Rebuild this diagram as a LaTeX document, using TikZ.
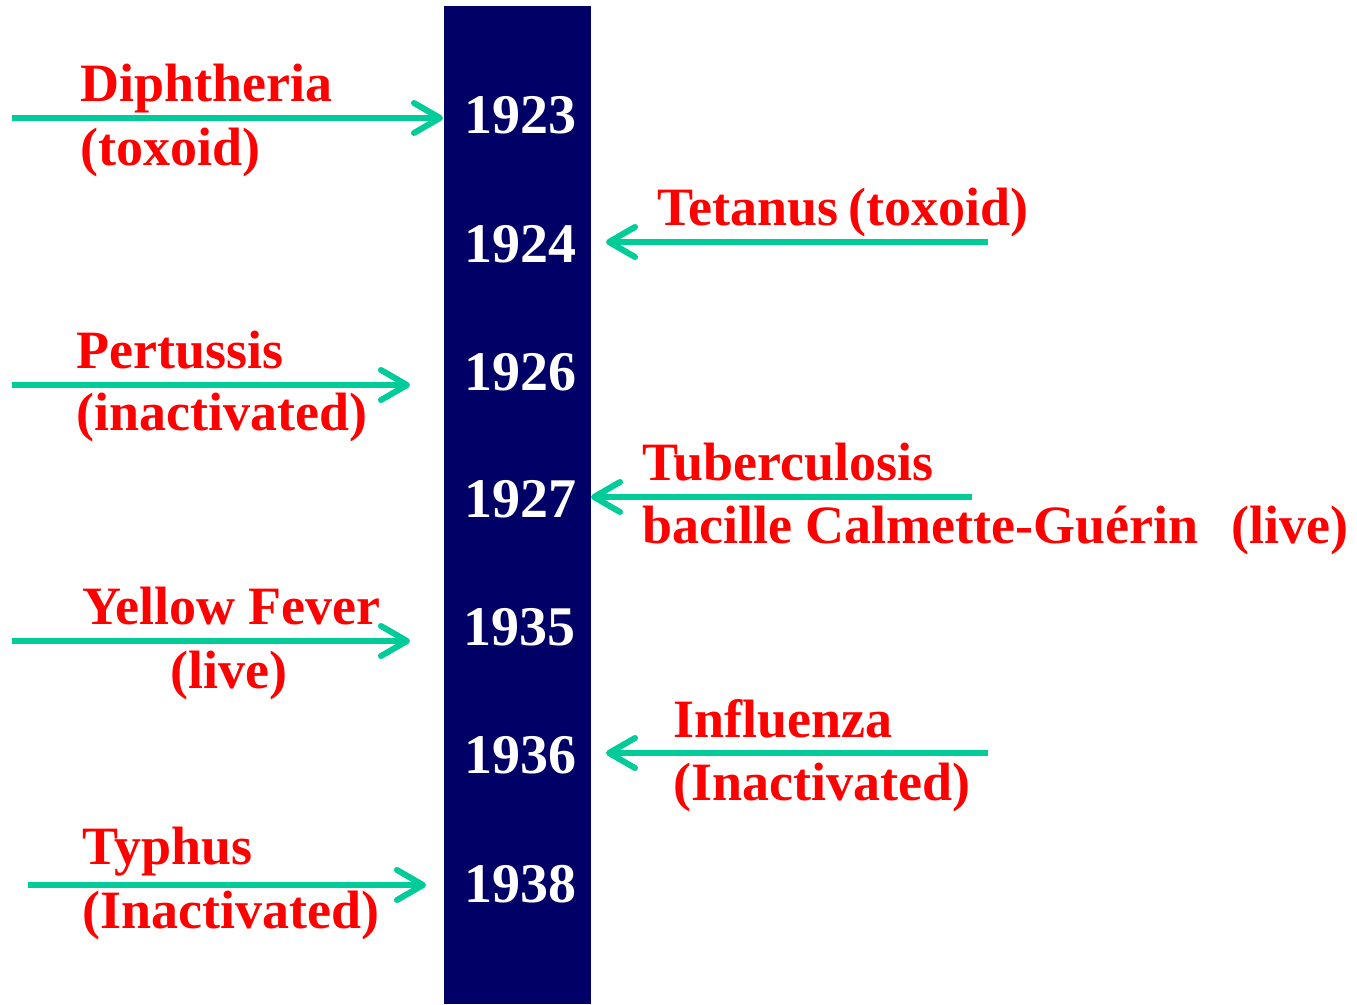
\documentclass[tikz,border=0pt]{standalone}
\usepackage{fontspec}
\setmainfont{Liberation Serif}
\usetikzlibrary{arrows.meta}
\definecolor{navybar}{HTML}{000066}
\definecolor{arrgreen}{HTML}{00CC99}
\definecolor{labred}{HTML}{FF0000}
\begin{document}
\begin{tikzpicture}[x=1pt,y=-1pt,
  lab/.style={anchor=base west,inner sep=0pt,text=labred,font=\bfseries\fontsize{54}{64}\selectfont},
  yr/.style={anchor=base,inner sep=0pt,text=white,font=\bfseries\fontsize{56}{64}\selectfont},
  arr/.style={draw=arrgreen,line width=6pt,-{Straight Barb[length=26pt,width=30pt,round,line width=6pt]}}]
\useasboundingbox (0,0) rectangle (1357,1004);
\fill[navybar] (444,6) rectangle (591,1004);
% years
\node[yr] (y1923) at (520,133) {1923};
\node[yr] (y1924) at (520,262) {1924};
\node[yr] (y1926) at (520,390) {1926};
\node[yr] (y1927) at (520,517) {1927};
\node[yr] (y1935) at (519,645) {1935};
\node[yr] (y1936) at (520,773) {1936};
\node[yr] (y1938) at (520,902) {1938};
% labels
\node[lab] (dip1) at (80,101) {Diphtheria};
\node[lab] (dip2) at (80,165) {(toxoid)};
\node[lab] (tet) at (657,225) {Tetanus\hspace{-3pt} (toxoid)};
\node[lab] (per1) at (76,368) {Pertussis};
\node[lab] (per2) at (76,430) {(inactivated)};
\node[lab] (tub1) at (642,480) {Tuberculosis};
\node[lab] (tub2) at (642,543) {bacille Calmette-Guérin\hspace{19pt} (live)};
\node[lab] (yf1) at (82,624) {Yellow Fever};
\node[lab] (yf2) at (170,688) {(live)};
\node[lab] (inf1) at (673,737) {Influenza};
\node[lab] (inf2) at (673,800) {(Inactivated)};
\node[lab] (typ1) at (82,864) {Typhus};
\node[lab] (typ2) at (82,928) {(Inactivated)};
% arrow ends
\coordinate (a1s) at (12,118);  \coordinate (a1e) at (443,118);
\coordinate (a2s) at (988,242); \coordinate (a2e) at (606,242);
\coordinate (a3s) at (12,385);  \coordinate (a3e) at (410,385);
\coordinate (a4s) at (972,497); \coordinate (a4e) at (591,497);
\coordinate (a5s) at (12,641);  \coordinate (a5e) at (410,641);
\coordinate (a6s) at (988,753); \coordinate (a6e) at (606,753);
\coordinate (a7s) at (28,885);  \coordinate (a7e) at (426,885);
\draw[arr] (a1s) -- (a1e);
\draw[arr] (a2s) -- (a2e);
\draw[arr] (a3s) -- (a3e);
\draw[arr] (a4s) -- (a4e);
\draw[arr] (a5s) -- (a5e);
\draw[arr] (a6s) -- (a6e);
\draw[arr] (a7s) -- (a7e);
\end{tikzpicture}
\end{document}
